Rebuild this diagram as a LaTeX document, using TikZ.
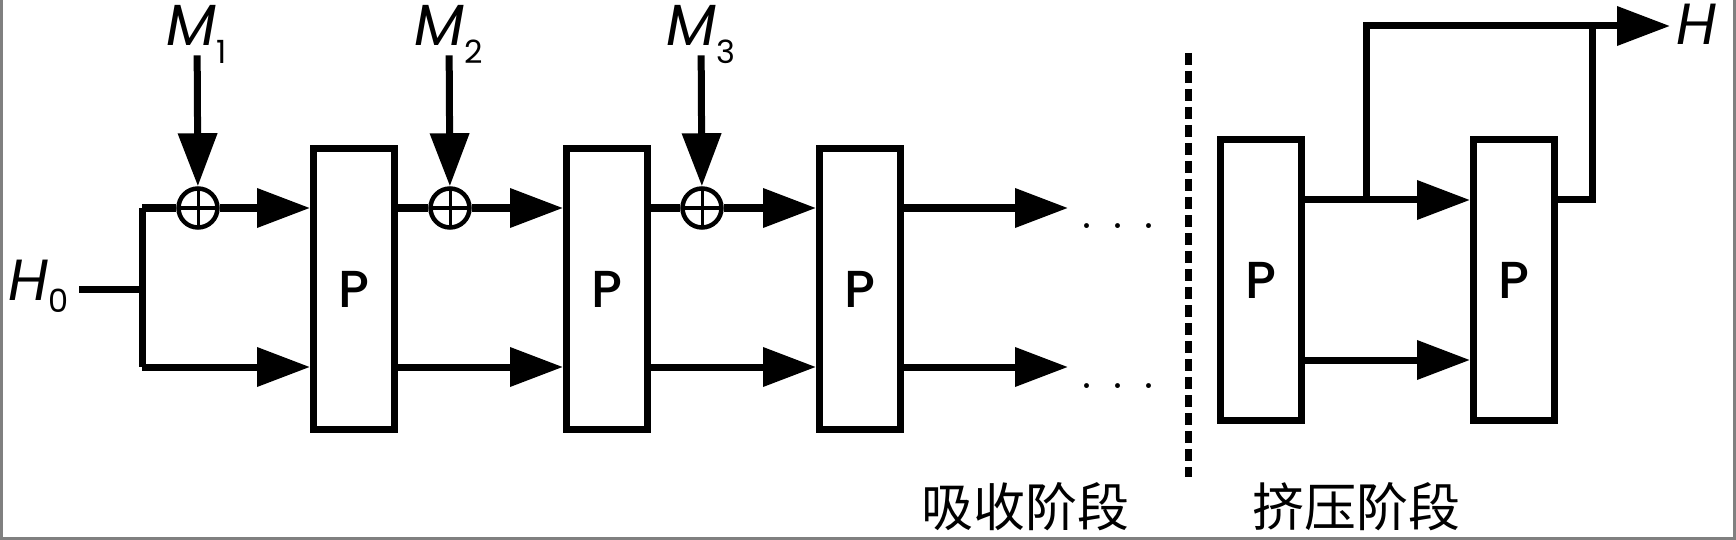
\documentclass[tikz,border=0pt]{standalone}
\usepackage{fontspec}
\setsansfont{Poppins}
\newfontfamily\pfont{Poppins Medium}
\newfontfamily\cjk{Noto Sans CJK SC}
\usetikzlibrary{arrows.meta}
\newcommand{\sublbl}[3]{\textit{#1}\raisebox{#3}{\fontsize{16}{16}\selectfont #2}}
\begin{document}
\begin{tikzpicture}[x=0.5pt, y=-0.5pt,
  wire/.style={line width=3.5pt},
  arr/.style={line width=3.5pt, -{Triangle[length=26.5pt,width=19pt]}},
  pbox/.style={draw, line width=3.5pt, minimum width=40.5pt, minimum height=140.5pt, inner sep=0pt, font=\pfont\fontsize{26}{26}\selectfont},
  xorc/.style={circle, draw, line width=2.25pt, minimum size=19.5pt, inner sep=0pt, path picture={\draw[line width=1.5pt] (path picture bounding box.north) -- (path picture bounding box.south) (path picture bounding box.west) -- (path picture bounding box.east);}},
  lbl/.style={inner xsep=0pt, inner ysep=4.5pt, text depth=0pt, anchor=base, font=\sffamily\fontsize{29}{29}\selectfont},
  dotrow/.style={inner sep=0pt, font=\fontsize{30}{30}\selectfont},
  stage/.style={inner sep=0pt, font=\cjk\fontsize{26}{26}\selectfont}]
\useasboundingbox (0,0) rectangle (1736,540);
\draw[gray, line width=1.5pt] (1,0) -- (1,538.5) -- (1734.5,538.5) -- (1734.5,0);

\node[lbl, inner xsep=5pt] (h0) at (39,300) {\sublbl{H}{0}{-6pt}};
\coordinate (s0) at (142,289);
\coordinate (s1) at (142,208);
\coordinate (s2) at (142,367);
\draw[wire] (h0.east |- s0) -- (s0);
\draw[wire] (s1) -- (s2);

\node[pbox] (p1) at (354,289) {P};
\node[pbox] (p2) at (607,289) {P};
\node[pbox] (p3) at (860,289) {P};
\node[xorc] (x1) at (198,208) {};
\node[xorc] (x2) at (450,208) {};
\node[xorc] (x3) at (702,208) {};
\node[lbl] (m1) at (197,46) {\sublbl{M}{1}{-9pt}};
\node[lbl] (m2) at (449,46) {\sublbl{M}{2}{-9pt}};
\node[lbl] (m3) at (701,46) {\sublbl{M}{3}{-9pt}};
\draw[arr] (m1) -- (x1);
\draw[arr] (m2) -- (x2);
\draw[arr] (m3) -- (x3);

\draw[wire] (s1) -- (x1);
\draw[arr] (x1) -- (p1.west |- s1);
\draw[arr] (s2) -- (p1.west |- s2);
\draw[wire] (p1.east |- s1) -- (x2);
\draw[arr] (x2) -- (p2.west |- s1);
\draw[arr] (p1.east |- s2) -- (p2.west |- s2);
\draw[wire] (p2.east |- s1) -- (x3);
\draw[arr] (x3) -- (p3.west |- s1);
\draw[arr] (p2.east |- s2) -- (p3.west |- s2);

\coordinate (e1) at (1068,208);
\coordinate (e2) at (1068,367);
\draw[arr] (p3.east |- e1) -- (e1);
\draw[arr] (p3.east |- e2) -- (e2);
\node[dotrow] (d1) at (1118,226) {.\kern8.2pt.\kern8.2pt.};
\node[dotrow] (d2) at (1118,386) {.\kern8.2pt.\kern8.2pt.};

\coordinate (v1) at (1188,53);
\coordinate (v2) at (1188,477);
\draw[wire, dash pattern=on 6pt off 3pt] (v1) -- (v2);

\node[pbox] (p4) at (1261,280) {P};
\node[pbox] (p5) at (1514,280) {P};
\coordinate (q1) at (1366,200);
\coordinate (q2) at (1366,26);
\coordinate (q3) at (1592,26);
\coordinate (q4) at (1592,200);
\coordinate (q5) at (1366,360);
\draw[wire] (p4.east |- q1) -- (q1);
\draw[arr] (q1) -- (p5.west |- q1);
\draw[arr] (p4.east |- q5) -- (p5.west |- q5);
\draw[wire] (p5.east |- q4) -- (q4) -- (q3);
\node[lbl, anchor=base west, inner xsep=3pt] (h) at (1670,45) {\textit{H}};
\draw[arr] (q1) -- (q2) -- (h.west |- q2);

\node[stage] (st1) at (1025,507) {吸收阶段};
\node[stage] (st2) at (1356,507) {挤压阶段};
\end{tikzpicture}
\end{document}
